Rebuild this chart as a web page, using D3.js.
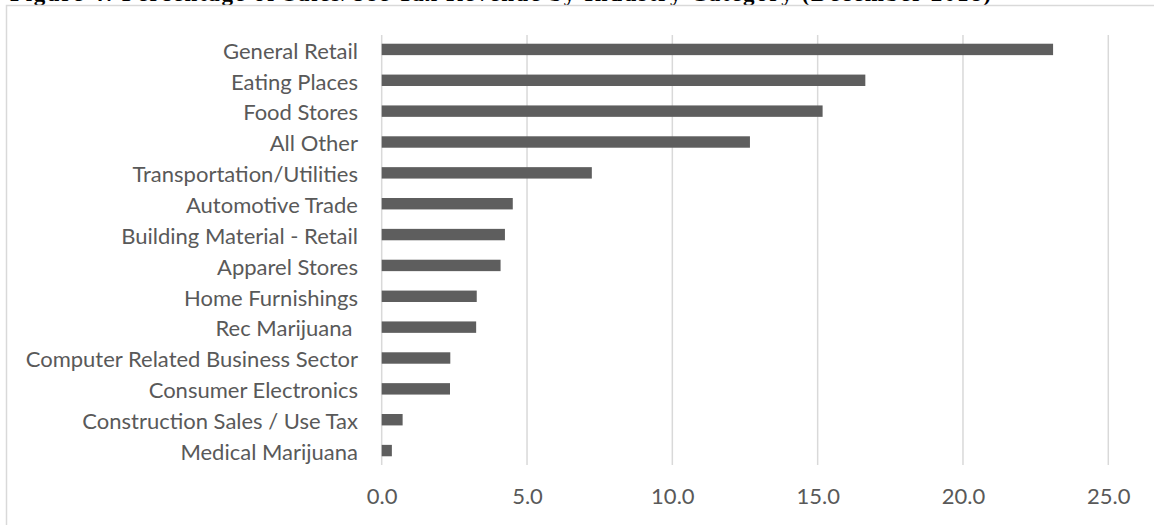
<!DOCTYPE html>
<html>
<head>
<meta charset="utf-8">
<script src="https://cdn.jsdelivr.net/npm/d3@7"></script>
<style>
  html, body { margin: 0; padding: 0; background: #fff; }
  svg { display: block; }
</style>
</head>
<body>
<svg id="chart" width="1154" height="525"></svg>
<script>
const categories = [
  "General Retail",
  "Eating Places",
  "Food Stores",
  "All Other",
  "Transportation/Utilities",
  "Automotive Trade",
  "Building Material - Retail",
  "Apparel Stores",
  "Home Furnishings",
  "Rec Marijuana ",
  "Computer Related Business Sector",
  "Consumer Electronics",
  "Construction Sales / Use Tax",
  "Medical Marijuana"
];
const values = [23.1, 16.64, 15.17, 12.67, 7.23, 4.51, 4.24, 4.09, 3.27, 3.25, 2.36, 2.35, 0.72, 0.35];
const tickValues = [0, 5, 10, 15, 20, 25];
const titleText = "Figure 4: Percentage of Sales/Use Tax Revenue by Industry Category (December 2018)";

const svg = d3.select("#chart");
const textColor = "#595959";
const gridColor = "#d9d9d9";
const barColor = "#5e5e5e";
const labelFont = "Lato, 'Open Sans', sans-serif";

// Title (mostly cropped at the top of the picture, as in the reference)
svg.append("text")
  .attr("x", 10).attr("y", 1)
  .attr("font-family", "'Liberation Serif', 'Times New Roman', serif")
  .attr("font-weight", "bold").attr("font-size", 23)
  .attr("fill", "#000")
  .attr("textLength", 981)
  .attr("lengthAdjust", "spacing")
  .text(titleText);

// Chart area border
svg.append("rect")
  .attr("x", 6.5).attr("y", 5.5)
  .attr("width", 1300).attr("height", 700)
  .attr("fill", "none")
  .attr("stroke", gridColor).attr("stroke-width", 1.5);

const x = d3.scaleLinear().domain([0, 25]).range([381.7, 1108.3]);
const y = d3.scaleBand().domain(categories).range([34, 466])
  .paddingInner(0.63).paddingOuter(0.315);

const gridTop = 35, gridBottom = 465;

// Gridlines
svg.append("g")
  .selectAll("line")
  .data(tickValues)
  .join("line")
  .attr("x1", d => x(d)).attr("x2", d => x(d))
  .attr("y1", gridTop).attr("y2", gridBottom)
  .attr("stroke", gridColor).attr("stroke-width", 1.5);

// Bars
svg.append("g")
  .selectAll("rect")
  .data(values)
  .join("rect")
  .attr("x", x(0))
  .attr("y", (d, i) => y(categories[i]))
  .attr("width", d => x(d) - x(0))
  .attr("height", y.bandwidth())
  .attr("fill", barColor);

// Category axis (labels only)
const yAxis = d3.axisLeft(y).tickSize(0).tickPadding(0);
const gy = svg.append("g").attr("transform", "translate(358,0)").call(yAxis);
gy.select(".domain").remove();
gy.selectAll("text")
  .attr("fill", textColor)
  .attr("font-family", labelFont)
  .attr("font-size", 22)
  .attr("dy", "0.42em")
  .style("white-space", "pre");

// Value axis (labels only)
const xAxis = d3.axisBottom(x).tickValues(tickValues).tickFormat(d3.format(".1f")).tickSize(0).tickPadding(0);
const gx = svg.append("g").call(xAxis);
gx.select(".domain").remove();
gx.selectAll("text")
  .attr("y", 504)
  .attr("dy", 0)
  .attr("fill", textColor)
  .attr("font-family", labelFont)
  .attr("font-size", 22);
</script>
</body>
</html>
